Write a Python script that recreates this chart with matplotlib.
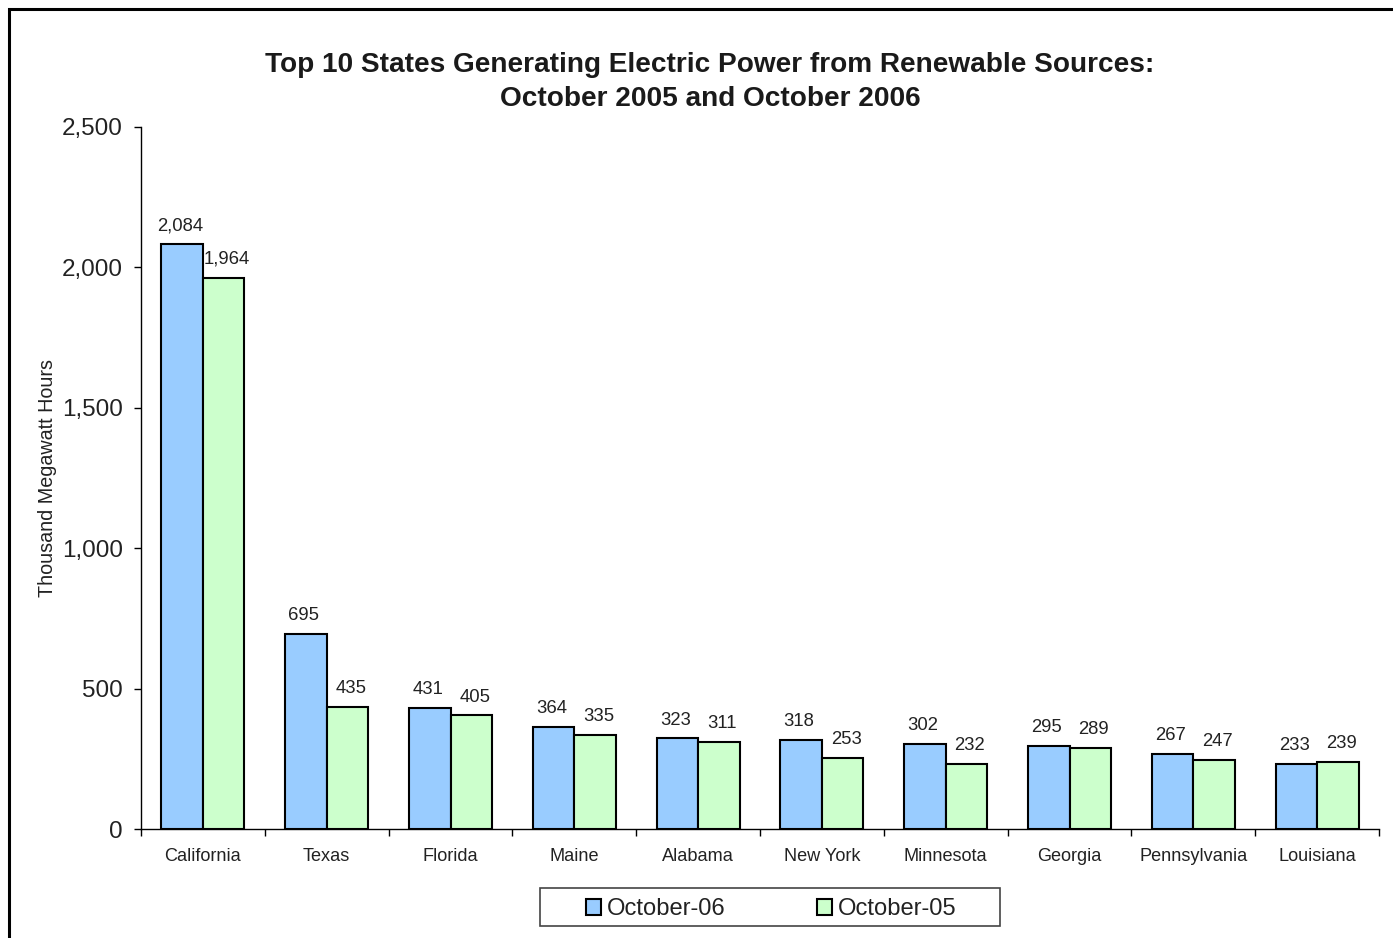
import matplotlib
matplotlib.use("Agg")
import matplotlib.pyplot as plt
import numpy as np
from matplotlib.patches import Rectangle
from matplotlib.ticker import FuncFormatter, FixedLocator

states = ["California", "Texas", "Florida", "Maine", "Alabama", "New York",
          "Minnesota", "Georgia", "Pennsylvania", "Louisiana"]
oct06 = [2084, 695, 431, 364, 323, 318, 302, 295, 267, 233]
oct05 = [1964, 435, 405, 335, 311, 253, 232, 289, 247, 239]
series_names = ["October-06", "October-05"]
colors = ["#99CCFF", "#CCFFCC"]

plt.rcParams['font.family'] = ['Liberation Sans', 'DejaVu Sans']

W, H = 1393, 938
fig = plt.figure(figsize=(W / 100, H / 100), dpi=100)
fig.patches.append(Rectangle((9 / W, -0.1), 1.2, 1 - 9 / H + 0.1, transform=fig.transFigure,
                             fill=False, edgecolor="black", linewidth=2.2))

ax = fig.add_axes([141 / W, 1 - 829 / H, (1379 - 141) / W, (829 - 127) / H])
x = np.arange(len(states))
bw = 0.335
b1 = ax.bar(x - bw / 2, oct06, bw, color=colors[0], edgecolor="black", linewidth=1.5,
            label=series_names[0])
b2 = ax.bar(x + bw / 2, oct05, bw, color=colors[1], edgecolor="black", linewidth=1.5,
            label=series_names[1])
for bars, vals, dx in ((b1, oct06, -1.5), (b2, oct05, 2.5)):
    for r, v in zip(bars, vals):
        ax.annotate(f"{v:,}", (r.get_x() + r.get_width() / 2, v), xytext=(dx, 7),
                    textcoords="offset points", ha="center", va="bottom", fontsize=13.3,
                    color="#222222")

ax.set_xlim(-0.5, len(states) - 0.5)
ax.set_ylim(0, 2500)
ax.set_yticks([0, 500, 1000, 1500, 2000, 2500])
ax.yaxis.set_major_formatter(FuncFormatter(lambda v, p: f"{int(v):,}"))
ax.tick_params(axis="y", labelsize=17.5, length=5, width=1, direction="out", pad=8,
               labelcolor="#222222")
ax.set_xticks(x)
ax.set_xticklabels(states, fontsize=13.1, color="#222222")
ax.xaxis.set_minor_locator(FixedLocator(np.arange(-0.5, len(states), 1.0)))
ax.tick_params(axis="x", which="major", length=0, pad=13.5)
ax.tick_params(axis="x", which="minor", length=5, width=1, direction="out")
for s in ["top", "right"]:
    ax.spines[s].set_visible(False)
ax.spines["left"].set_linewidth(1)
ax.spines["bottom"].set_linewidth(1)
ax.set_ylabel("Thousand Megawatt Hours", fontsize=14.2, color="#222222")
ax.yaxis.set_label_coords(-84 / (1379 - 141), 0.5)

fig.text(710 / W, 1 - 81.5 / H,
         "Top 10 States Generating Electric Power from Renewable Sources:\nOctober 2005 and October 2006",
         ha="center", va="center", fontsize=20.2, fontweight="bold", color="#1a1a1a",
         linespacing=1.4)

leg = fig.legend(handles=[b1, b2], labels=series_names, loc="center",
                 bbox_to_anchor=(771 / W, 1 - 909 / H), ncol=2, fontsize=17.1,
                 frameon=False, handlelength=0.64, handleheight=0.64,
                 handletextpad=0.25, columnspacing=3.85, borderpad=0, borderaxespad=0)
for t in leg.get_texts():
    t.set_color("#222222")
fig.patches.append(Rectangle((540 / W, 1 - 926 / H), (1000 - 540) / W, (926 - 888) / H,
                             transform=fig.transFigure, fill=False, edgecolor="#444444",
                             linewidth=1.2))

fig.savefig("out.png", dpi=100)
